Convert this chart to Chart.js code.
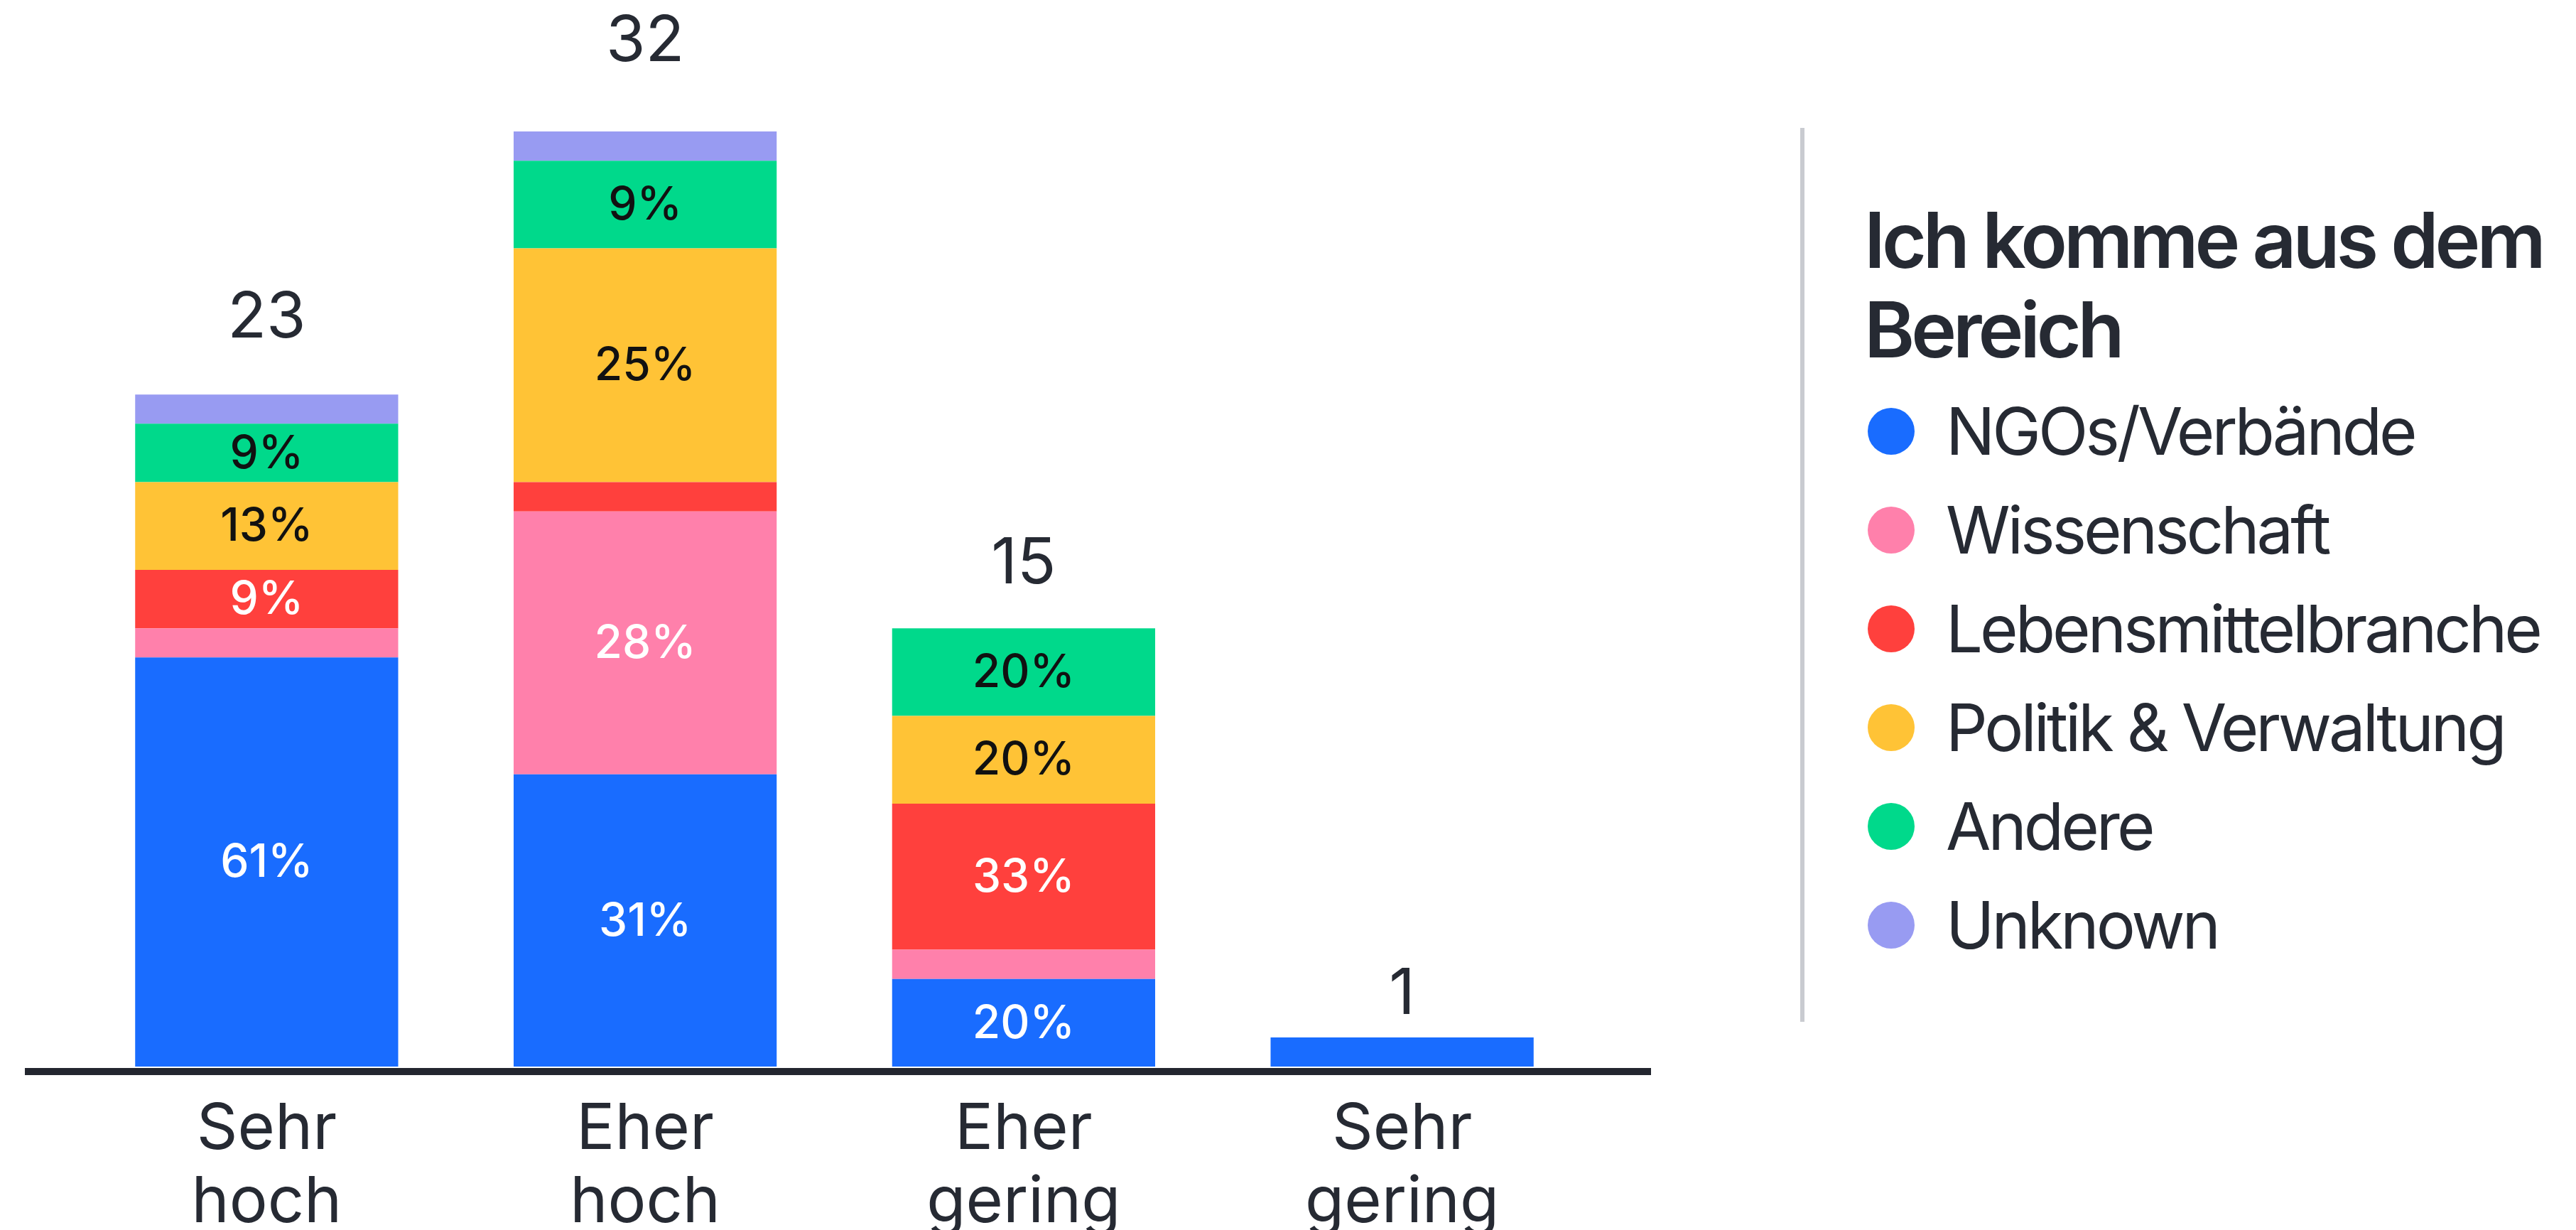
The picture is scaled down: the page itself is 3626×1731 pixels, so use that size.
<!DOCTYPE html>
<html>
<head>
<meta charset="utf-8">
<script src="https://cdn.jsdelivr.net/npm/chart.js@4"></script>
<style>
  body { margin: 0; background: #fff; font-family: Inter, sans-serif; color: #262a33; }
  #wrap { position: relative; width: 3626px; height: 1731px; overflow: hidden; }
  #myChart { position: absolute; left: 0; top: 0; }
  #sep { position: absolute; left: 2534px; top: 180px; width: 6px; height: 1258px; background: #c9cbd0; }
  #legendTitle { position: absolute; left: 2624px; top: 275px; font-weight: 600; font-size: 108px; line-height: 126px; letter-spacing: -5px; white-space: nowrap; }
  #legend { position: absolute; left: 2629px; top: 537px; white-space: nowrap; }
  .item { height: 139px; display: flex; align-items: center; font-size: 92px; letter-spacing: -4px; }
  .dot { width: 66px; height: 66px; border-radius: 50%; margin-right: 44px; flex: none; }
</style>
</head>
<body>
<div id="wrap">
  <canvas id="myChart" width="2400" height="1731"></canvas>
  <div id="sep"></div>
  <div id="legendTitle">Ich komme aus dem<br>Bereich</div>
  <div id="legend"></div>
</div>
<script>
// answers per category, split by where people come from
const categories = [['Sehr', 'hoch'], ['Eher', 'hoch'], ['Eher', 'gering'], ['Sehr', 'gering']]
const seriesNames = ['NGOs/Verbände', 'Wissenschaft', 'Lebensmittelbranche', 'Politik & Verwaltung', 'Andere', 'Unknown']
const ngos = [14, 10, 3, 1]
const wissenschaft = [1, 9, 1, 0]
const lebensmittel = [2, 1, 5, 0]
const politik = [3, 8, 3, 0]
const andere = [2, 3, 3, 0]
const unknown = [1, 1, 0, 0]

const colors = ['#196cff', '#ff80ab', '#ff403d', '#ffc336', '#00d98b', '#989bf2']
const pctColors = ['#ffffff', '#ffffff', '#ffffff', '#111111', '#111111', '#ffffff']

const series = [ngos, wissenschaft, lebensmittel, politik, andere, unknown]
let totals = categories.map((c, i) => series.reduce((s, d) => s + d[i], 0))

const barLabels = {
  id: 'barLabels',
  afterDatasetsDraw(chart) {
    const ctx = chart.ctx
    const y = chart.scales.y
    ctx.save()
    ctx.textAlign = 'center'
    ctx.textBaseline = 'middle'

    // percentages inside the segments (only where there is room)
    ctx.font = '500 64px Inter'
    chart.data.datasets.forEach((ds, di) => {
      chart.getDatasetMeta(di).data.forEach((bar, i) => {
        const v = ds.data[i]
        if (!v || bar.base - bar.y < 70) return
        ctx.fillStyle = pctColors[di]
        ctx.fillText(Math.round(v / totals[i] * 100) + '%', bar.x, (bar.y + bar.base) / 2 + 2)
      })
    })

    // totals above the bars, taller bars get a bit more space
    ctx.font = '400 90px Inter'
    ctx.fillStyle = '#262a33'
    const meta = chart.getDatasetMeta(0)
    totals.forEach((t, i) => {
      ctx.fillText(String(t), meta.data[i].x, y.getPixelForValue(t * 1.052) - 58)
    })

    // baseline
    const y0 = y.getPixelForValue(0)
    ctx.fillStyle = '#23262f'
    ctx.fillRect(35, y0 + 2, 2289, 10)
    ctx.restore()
  }
}

const ctx = document.getElementById('myChart')

new Chart(ctx, {
  type: 'bar',
  data: {
    labels: categories,
    datasets: seriesNames.map((name, i) => ({
      label: name,
      data: series[i],
      backgroundColor: colors[i],
      borderWidth: 0,
      categoryPercentage: 1,
      barPercentage: 0.695
    }))
  },
  options: {
    responsive: false,
    animation: false,
    devicePixelRatio: 1,
    layout: { padding: { left: 109, right: 160, top: 0, bottom: 0 } },
    plugins: {
      legend: { display: false },
      tooltip: { enabled: false }
    },
    scales: {
      x: {
        stacked: true,
        grid: { display: false, drawTicks: false },
        border: { display: false },
        ticks: {
          color: '#262a33',
          padding: 37,
          font: { family: 'Inter', size: 90, lineHeight: 1.15 },
          maxRotation: 0
        },
        afterFit(scale) { scale.height = 230 }
      },
      y: {
        stacked: true,
        display: false,
        min: 0,
        max: 36.5
      }
    }
  },
  plugins: [barLabels]
})

// legend list
let temp = ''
for (let i = 0; i < seriesNames.length; i++) {
  temp += `<div class="item"><span class="dot" style="background:${colors[i]}"></span>${seriesNames[i]}</div>`
}
document.getElementById('legend').innerHTML = temp
</script>
</body>
</html>
